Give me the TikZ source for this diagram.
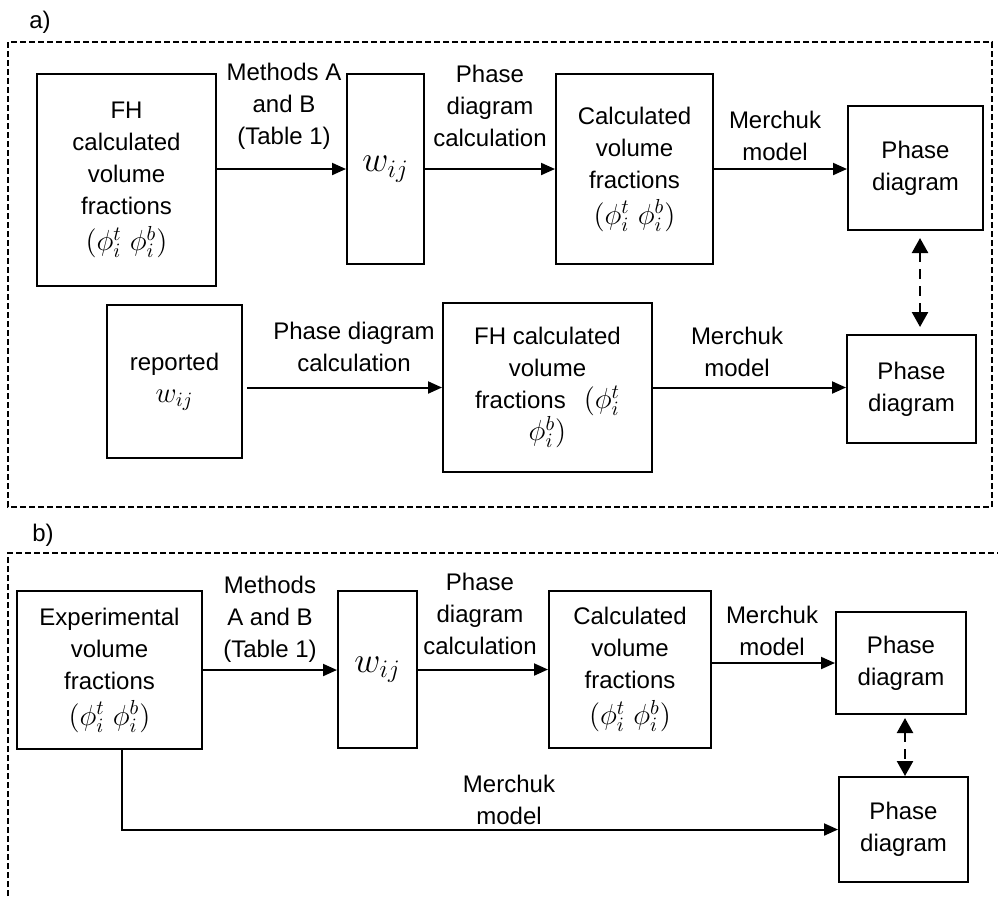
\documentclass[tikz,border=0pt]{standalone}
\usepackage{fix-cm}
\usepackage{fontspec}
\setmainfont{Liberation Sans}
\usetikzlibrary{arrows.meta}
\newcommand\mymath[1]{{\fontsize{14.5}{16}\selectfont #1}}
\begin{document}
\begin{tikzpicture}[x=0.5pt,y=-0.5pt,
  txt/.style={font=\fontsize{12}{16}\selectfont},
  box/.style={draw, line width=1pt, inner sep=0pt, align=center, txt},
  sz/.style 2 args={minimum width=#1*0.5pt, minimum height=#2*0.5pt},
  lbl/.style={align=center, inner sep=0pt, txt},
  arr/.style={line width=1pt, -{Triangle[length=7pt,width=6pt]}},
  darr/.style={line width=1.2pt, dash pattern=on 5pt off 3.5pt,
     {Triangle[length=7.5pt,width=8pt]}-{Triangle[length=7.5pt,width=8pt]}},
  frame/.style={line width=0.7pt, dash pattern=on 3pt off 1.5pt},
  bigw/.style={font=\fontsize{18}{20}\selectfont}
]
\useasboundingbox (0,0) rectangle (999,896);

% ---------- part a ----------
\node[lbl] (la) at (40,22) {a)};
\draw[frame] (8,42) rectangle (992,507);

\node[box, sz={179}{212}] (fh) at (126.5,180)
  {FH\\calculated\\volume\\fractions\\[2pt]\mymath{$(\phi_i^t\;\phi_i^b)$}};
\node[box, sz={77}{190}, bigw] (wa) at (385.5,169) {$w_{ij}$};
\node[box, sz={157}{190}] (calca) at (634.5,169)
  {Calculated\\volume\\fractions\\[2pt]\mymath{$(\phi_i^t\;\phi_i^b)$}};
\node[box, sz={135}{124}] (pda1) at (915.5,168) {Phase\\diagram};

\node[box, sz={135}{153}] (rep) at (174.5,381.5) {reported\\\mymath{$w_{ij}$}};
\node[box, sz={209}{169}] (fh2) at (547.5,387.5)
  {FH calculated\\volume\\fractions\hspace{9pt}\mymath{$(\phi_i^t$}\\\mymath{$\phi_i^b)$}};
\node[box, sz={129}{108}] (pda2) at (911.5,389) {Phase\\diagram};

\node[lbl] (l1) at (284,106) {Methods A\\and B\\(Table 1)};
\node[lbl] (l2) at (490,106) {Phase\\diagram\\calculation};
\node[lbl] (l3) at (775,136) {Merchuk\\model};
\node[lbl] (l4) at (354,347) {Phase diagram\\calculation};
\node[lbl] (l5) at (737,352) {Merchuk\\model};

\draw[arr] (fh.east |- wa.west) -- (wa.west);
\draw[arr] (wa.east) -- (calca.west);
\draw[arr] (calca.east) -- (calca.east -| pda1.west);
\draw[arr] ([xshift=2pt]rep.east |- fh2.west) -- (fh2.west);
\draw[arr] (fh2.east) -- (fh2.east -| pda2.west);
\draw[darr] ([xshift=2.25pt,yshift=-3.5pt]pda1.south) -- ([xshift=4.25pt,yshift=3.5pt]pda2.north);

% ---------- part b ----------
\node[lbl] (lb) at (43,535) {b)};
\draw[frame] (8,896) -- (8,553) -- (998,553);

\node[box, sz={185}{158}] (exp) at (109.5,670)
  {Experimental\\volume\\fractions\\[2pt]\mymath{$(\phi_i^t\;\phi_i^b)$}};
\node[box, sz={79}{157}, bigw] (wb) at (377.5,669.5) {$w_{ij}$};
\node[box, sz={162}{157}] (calcb) at (630,669.5)
  {Calculated\\volume\\fractions\\[2pt]\mymath{$(\phi_i^t\;\phi_i^b)$}};
\node[box, sz={130}{102}] (pdb1) at (901,663) {Phase\\diagram};
\node[box, sz={129}{105}] (pdb2) at (903.5,829.5) {Phase\\diagram};

\node[lbl] (l6) at (270,619) {Methods\\A and B\\(Table 1)};
\node[lbl] (l7) at (480,613.5) {Phase\\diagram\\calculation};
\node[lbl] (l8) at (772,631) {Merchuk\\model};
\node[lbl] (l9) at (509,800) {Merchuk\\model};

\draw[arr] (exp.east) -- (exp.east -| wb.west);
\draw[arr] (wb.east) -- (wb.east -| calcb.west);
\draw[arr] (calcb.east |- pdb1.west) -- (pdb1.west);
\draw[arr] ([xshift=6.25pt]exp.south) |- (pdb2.west);
\draw[darr] ([xshift=2pt,yshift=-1.5pt]pdb1.south) -- ([xshift=0.75pt]pdb2.north);
\end{tikzpicture}
\end{document}
